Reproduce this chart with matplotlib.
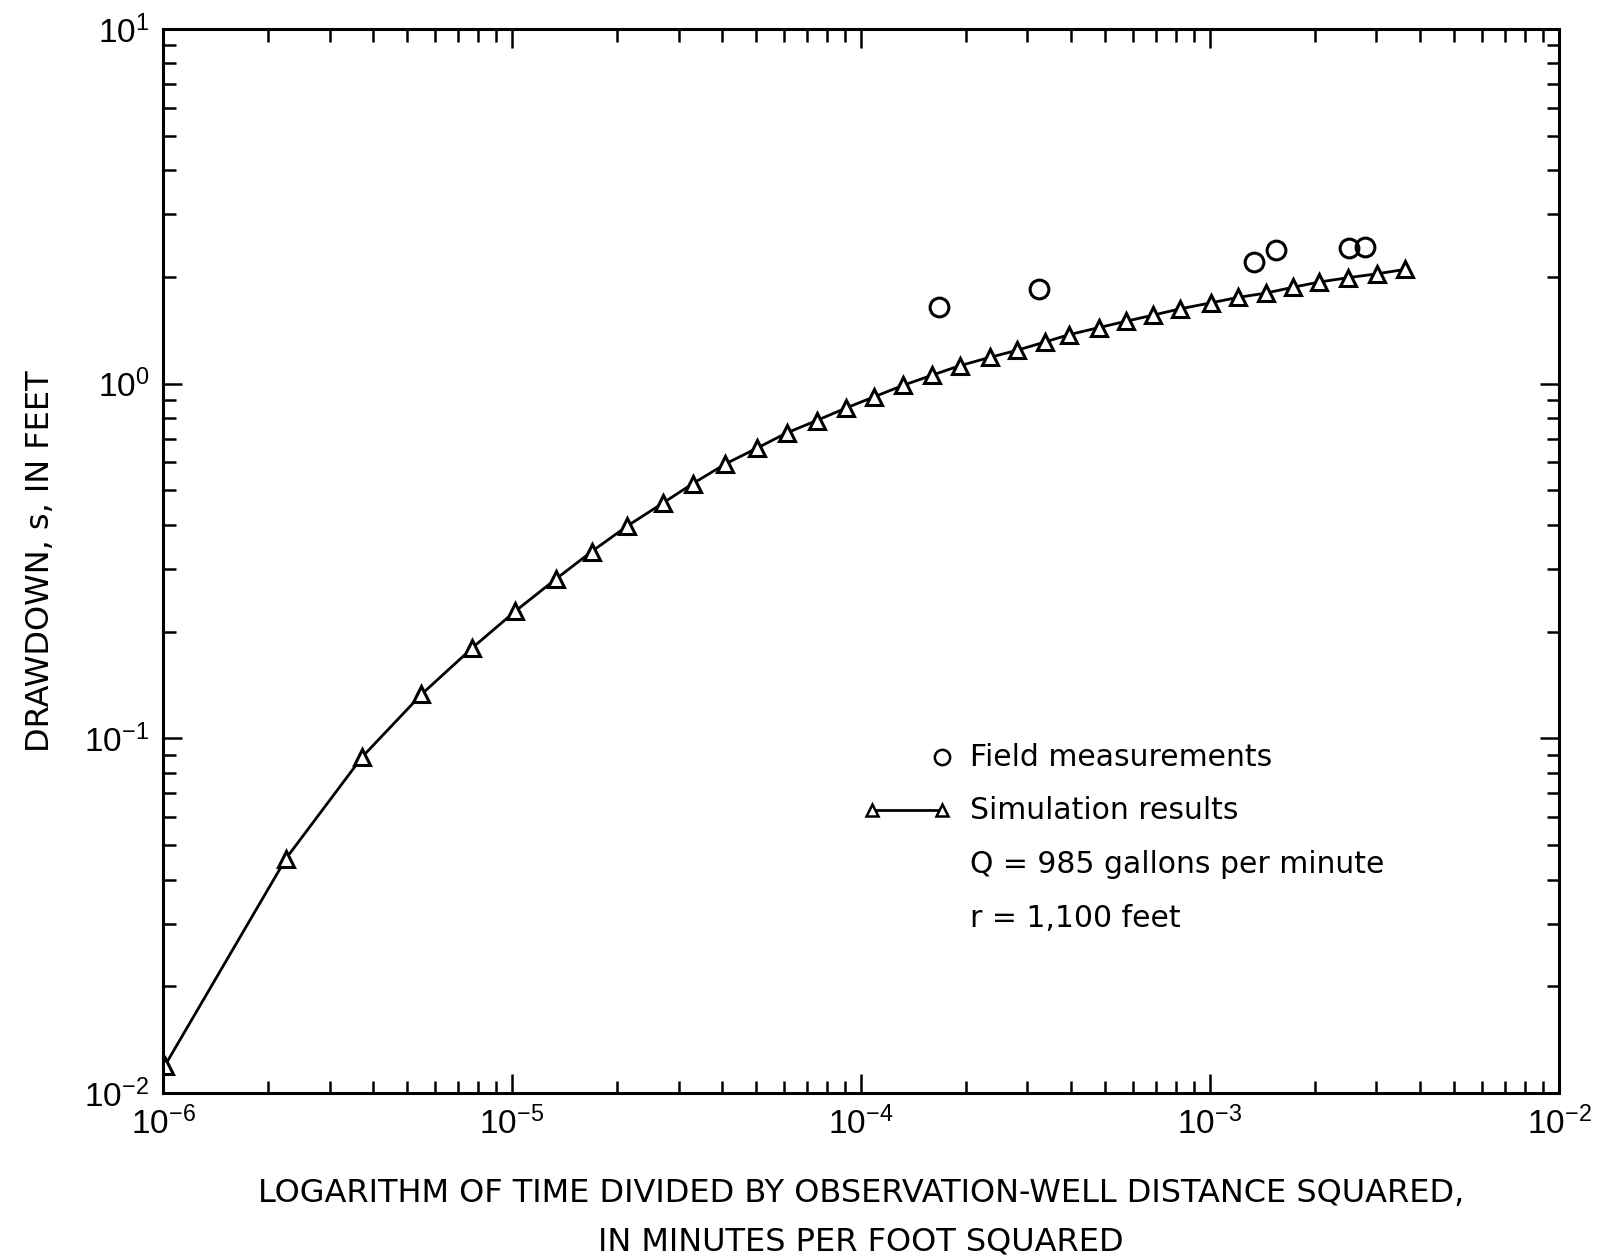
import numpy as np
import matplotlib
matplotlib.use('Agg')
import matplotlib.pyplot as plt
from matplotlib.ticker import LogLocator

plt.rcParams['font.family'] = ['Liberation Sans', 'DejaVu Sans']
plt.rcParams['mathtext.fontset'] = 'custom'
plt.rcParams['mathtext.rm'] = 'Liberation Sans'

# Simulation results (time / r^2 in min/ft^2, drawdown in feet)
sim_t = [1.01e-6, 2.25e-6, 3.72e-6, 5.5e-6, 7.7e-6, 1.02e-5, 1.34e-5, 1.69e-5,
         2.14e-5, 2.70e-5, 3.30e-5, 4.09e-5, 5.02e-5, 6.12e-5, 7.46e-5, 9.04e-5,
         1.09e-4, 1.32e-4, 1.60e-4, 1.92e-4, 2.34e-4, 2.80e-4, 3.37e-4, 3.94e-4,
         4.82e-4, 5.75e-4, 6.87e-4, 8.20e-4, 1.007e-3, 1.20e-3, 1.445e-3, 1.73e-3,
         2.06e-3, 2.49e-3, 3.01e-3, 3.62e-3]
sim_s = [0.0119, 0.0458, 0.0886, 0.133, 0.180, 0.228, 0.282, 0.336,
         0.397, 0.460, 0.523, 0.594, 0.657, 0.726, 0.787, 0.853,
         0.918, 0.989, 1.057, 1.124, 1.186, 1.242, 1.311, 1.374,
         1.44, 1.50, 1.56, 1.625, 1.69, 1.75, 1.80, 1.87,
         1.935, 1.99, 2.04, 2.10]

# Field measurements
field_t = [1.67e-4, 3.23e-4, 1.34e-3, 1.545e-3, 2.51e-3, 2.78e-3]
field_s = [1.647, 1.846, 2.21, 2.38, 2.41, 2.43]

fig = plt.figure(figsize=(16.19, 12.6), dpi=100)
ax = fig.add_axes([0.1007, 0.1325, 0.8622, 0.8445])

ax.plot(sim_t, sim_s, color='black', lw=2, marker='^', ms=11.5,
        mfc='white', mec='black', mew=2.2)
ax.plot(field_t, field_s, ls='none', marker='o', ms=13.5,
        mfc='none', mec='black', mew=2.2)

ax.set_xscale('log')
ax.set_yscale('log')
ax.set_xlim(1e-6, 1e-2)
ax.set_ylim(1e-2, 1e1)
ax.xaxis.set_major_locator(LogLocator(base=10, numticks=10))
ax.yaxis.set_major_locator(LogLocator(base=10, numticks=10))
ax.xaxis.set_minor_locator(LogLocator(base=10, subs=np.arange(2, 10), numticks=20))
ax.yaxis.set_minor_locator(LogLocator(base=10, subs=np.arange(2, 10), numticks=20))

for s in ax.spines.values():
    s.set_linewidth(2.2)
ax.tick_params(which='both', direction='in', top=True, right=True, width=1.8,
               labelsize=24, colors='black')
ax.tick_params(which='major', length=14, pad=10)
ax.tick_params(which='minor', length=9)

lab = dict(family='DejaVu Sans', fontsize=23)
ax.set_xlabel('LOGARITHM OF TIME DIVIDED BY OBSERVATION-WELL DISTANCE SQUARED,\n'
              'IN MINUTES PER FOOT SQUARED', labelpad=26, linespacing=1.75, **lab)
ax.set_ylabel('DRAWDOWN, s, IN FEET', labelpad=20, **lab)

# legend / notes
tr = ax.transAxes
leg = dict(family='DejaVu Sans', fontsize=21.5, va='center')
ax.plot([0.558], [0.3155], transform=tr, marker='o', ms=11, mfc='none',
        mec='black', mew=1.8, ls='none')
ax.plot([0.508, 0.558], [0.266, 0.266], transform=tr, color='black', lw=2,
        marker='^', ms=9, mfc='white', mec='black', mew=1.8)
ax.text(0.578, 0.3155, 'Field measurements', transform=tr, **leg)
ax.text(0.578, 0.266, 'Simulation results', transform=tr, **leg)
ax.text(0.578, 0.2146, 'Q = 985 gallons per minute', transform=tr, **leg)
ax.text(0.578, 0.164, 'r = 1,100 feet', transform=tr, **leg)

fig.savefig('out.png', dpi=100)
